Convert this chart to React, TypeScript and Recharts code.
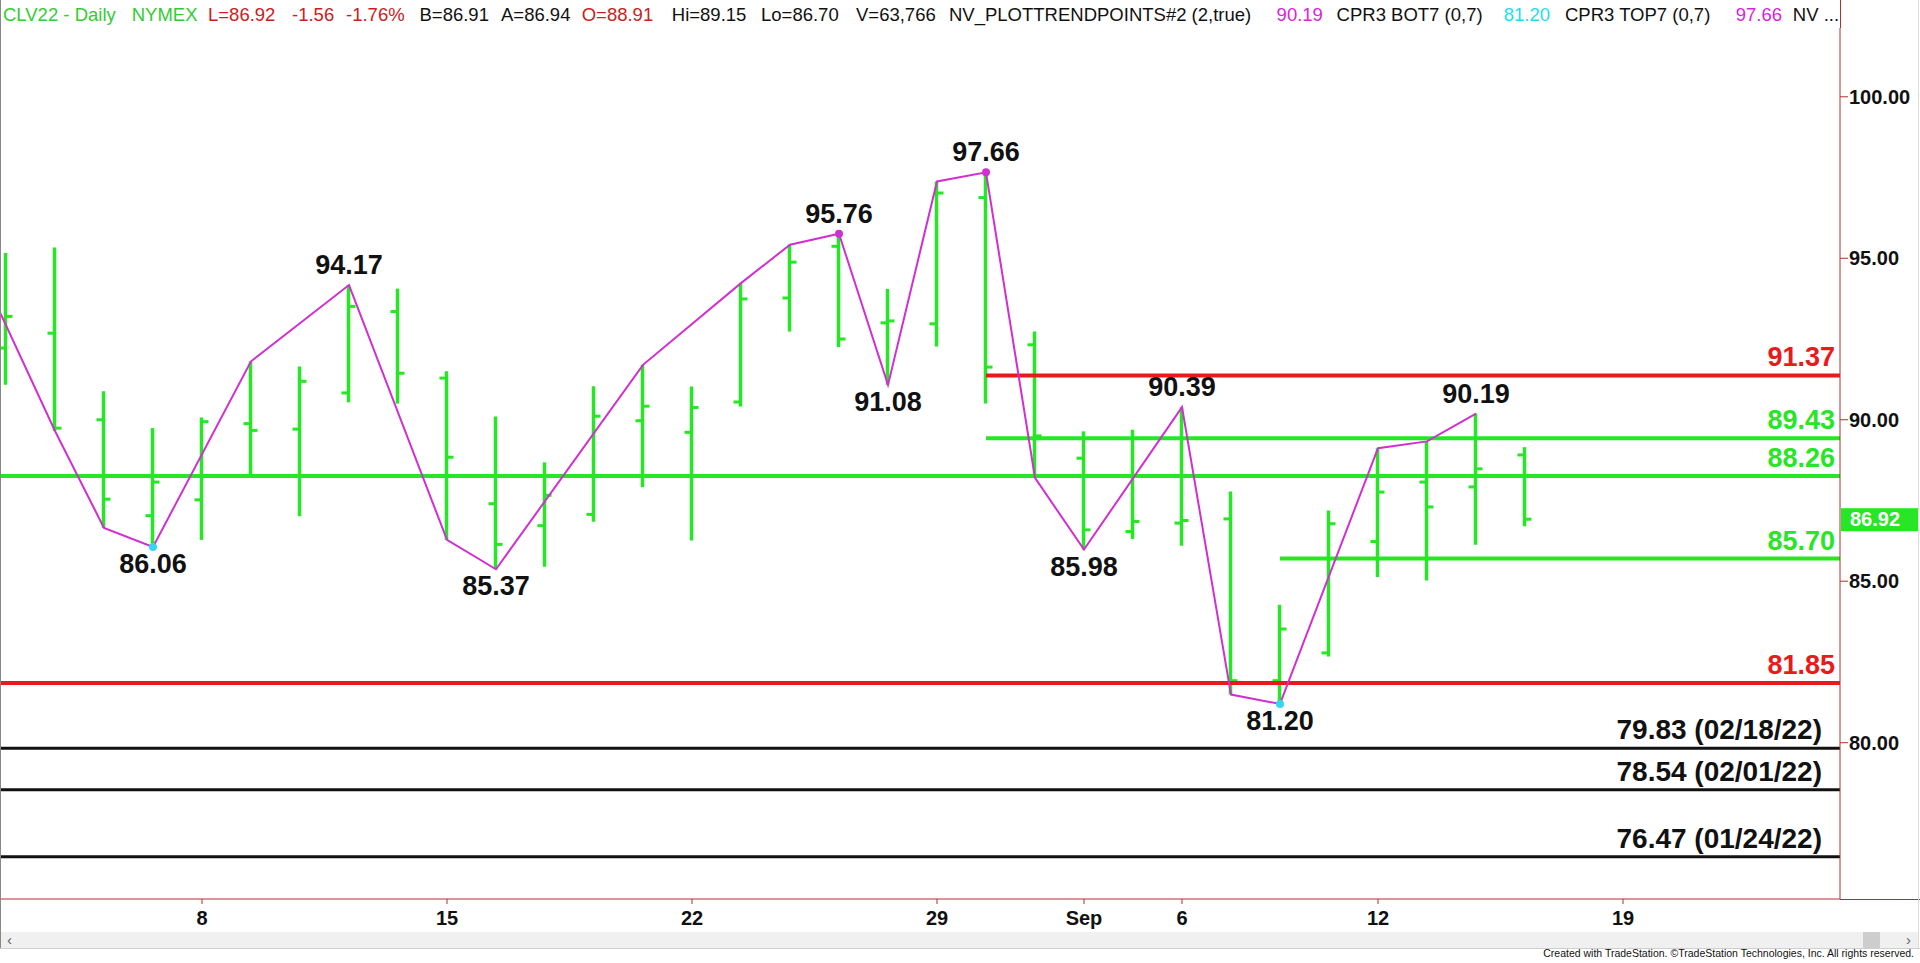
import React from 'react'
import { ComposedChart, Bar, Line, Scatter, XAxis, YAxis, ReferenceLine } from 'recharts'

// CLV22 daily bars, Aug 1 .. Sep 15 2022 (Aug 1 is off the left edge, only its swing point shows)
const days = [
  '08-01', '08-02', '08-03', '08-04', '08-05', '08-08', '08-09', '08-10', '08-11', '08-12',
  '08-15', '08-16', '08-17', '08-18', '08-19', '08-22', '08-23', '08-24', '08-25', '08-26',
  '08-29', '08-30', '08-31', '09-01', '09-02', '09-06', '09-07', '09-08', '09-09', '09-12',
  '09-13', '09-14', '09-15',
]
const futureDays = ['09-16', '09-19', '09-20', '09-21', '09-22', '09-23']

const openPx = [
  null, 92.22, 92.68, 90.0, 87.03, 87.52, 89.88, 89.71, 90.83, 93.35,
  91.29, 87.4, 86.72, 87.07, 89.97, 89.61, 90.55, 93.77, 95.37, 93.0,
  92.97, 96.88, 92.32, 88.81, 86.54, 86.8, 86.93, 81.92, 82.78, 86.23,
  88.07, 87.92, 88.91,
]
const highPx = [
  null, 95.16, 95.33, 90.88, 89.74, 90.07, 91.81, 91.65, 94.17, 94.06,
  91.5, 90.1, 88.68, 91.04, 91.7, 91.03, 94.23, 95.42, 95.76, 94.05,
  97.38, 97.66, 92.73, 89.64, 89.69, 90.39, 87.78, 84.27, 87.19, 89.12,
  89.33, 90.19, 89.15,
]
const lowPx = [
  null, 91.08, 89.65, 86.65, 86.06, 86.28, 88.3, 87.01, 90.54, 90.5,
  86.28, 85.37, 85.45, 86.84, 87.91, 86.26, 90.41, 92.73, 92.25, 91.08,
  92.27, 90.5, 88.2, 85.98, 86.31, 86.1, 81.49, 81.2, 82.67, 85.13,
  85.02, 86.13, 86.7,
]
const closePx = [
  null, 93.2, 89.74, 87.54, 88.07, 89.94, 89.67, 91.19, 93.51, 91.44,
  88.84, 86.14, 87.66, 90.11, 90.42, 90.38, 93.74, 94.88, 92.5, 93.06,
  97.02, 91.63, 89.5, 86.59, 86.85, 86.88, 81.92, 83.52, 86.78, 87.76,
  87.3, 88.48, 86.92,
]
// NV_PLOTTRENDPOINTS swing line, null where it does not turn
const swing = [
  96.2, null, 89.65, 86.65, 86.06, null, 91.81, null, 94.17, null,
  86.28, 85.37, null, null, 91.7, null, 94.23, 95.42, 95.76, 91.08,
  97.38, 97.66, 88.2, 85.98, null, 90.39, 81.49, 81.2, null, 89.12,
  89.33, 90.19, null,
]

const labelDays = ['08-05', '08-11', '08-16', '08-25', '08-26', '08-30', '09-01', '09-06', '09-08', '09-14']
const topDotDays = ['08-25', '08-30']
const bottomDotDays = ['08-05', '09-08']

const tickDays = ['08-08', '08-15', '08-22', '08-29', '09-01', '09-06', '09-12', '09-19']
const tickLabels = ['8', '15', '22', '29', 'Sep', '6', '12', '19']
const priceTicks = [80, 85, 90, 95, 100]

const levelValues = [91.37, 89.43, 88.26, 85.7, 81.85, 79.83, 78.54, 76.47]
const levelFrom = ['08-30', '08-30', null, '09-08', null, null, null, null]
const levelKind = ['red', 'green', 'green', 'green', 'red', 'black', 'black', 'black']
const levelDates = [null, null, null, null, null, '02/18/22', '02/01/22', '01/24/22']

const bidPx = 86.91
const askPx = 86.94
const volume = '63,766'

const FONT = '"Liberation Sans", Arial, sans-serif'
const GREEN = '#26e626'
const RED = '#e81a1a'
const MAGENTA = '#d030d0'
const CYAN = '#33d8f0'
const AXIS = '#b03030'
const kindColor: Record<string, string> = { red: RED, green: GREEN, black: '#111' }

const allDays = [...days, ...futureDays]
const tickIdx = tickDays.map((d) => allDays.indexOf(d))

const rows = days.map((d, i) => ({
  i,
  day: d,
  open: openPx[i],
  high: highPx[i],
  low: lowPx[i],
  close: closePx[i],
  range: highPx[i] == null ? null : [lowPx[i], highPx[i]],
  zig: swing[i],
}))

const labelRows = rows.filter((r) => labelDays.includes(r.day))
const topDots = rows.filter((r) => topDotDays.includes(r.day))
const bottomDots = rows.filter((r) => bottomDotDays.includes(r.day))

// 49px per session, first visible bar 6px in from the left edge
const PLOT_W = 1840
const STEP = 49
const xMin = 1 - 6 / STEP
const xMax = xMin + PLOT_W / STEP

const last = closePx.length - 1
const lastClose = closePx[last] as number
const prevClose = closePx[last - 1] as number
const chg = lastClose - prevClose
const chgPct = (chg / prevClose) * 100

function OhlcShape(props: any) {
  const { x, y, width, height, payload } = props
  if (payload == null || payload.high == null) return null
  const top = Math.min(y, y + height)
  const h = Math.abs(height)
  const cx = x + width / 2
  const py = (v: number) => top + ((payload.high - v) / (payload.high - payload.low)) * h
  return (
    <g stroke={GREEN} strokeWidth={3.5}>
      <line x1={cx} x2={cx} y1={top} y2={top + h} />
      <line x1={cx - 7} x2={cx} y1={py(payload.open)} y2={py(payload.open)} strokeWidth={3} />
      <line x1={cx} x2={cx + 7} y1={py(payload.close)} y2={py(payload.close)} strokeWidth={3} />
    </g>
  )
}

function PivotLabel(props: any) {
  const { cx, cy, payload } = props
  const isHigh = payload.zig === payload.high
  return (
    <text
      x={cx}
      y={isHigh ? cy - 11 : cy + 26}
      textAnchor="middle"
      fontFamily={FONT}
      fontSize={27}
      fontWeight="bold"
      fill="#111"
    >
      {payload.zig.toFixed(2)}
    </text>
  )
}

const dotShape = (color: string) => (props: any) => (
  <circle cx={props.cx} cy={props.cy} r={4} fill={color} stroke="none" />
)

const levelLabel = (text: string, color: string, right: number, size: number) => (props: any) => {
  const vb = props.viewBox
  if (!vb) return null
  return (
    <text
      x={vb.x + vb.width - right}
      y={vb.y - 9}
      textAnchor="end"
      fontFamily={FONT}
      fontSize={size}
      fontWeight="bold"
      fill={color}
    >
      {text}
    </text>
  )
}

const lastPriceTag = (props: any) => {
  const vb = props.viewBox
  if (!vb) return null
  const x0 = vb.x + vb.width + 1
  return (
    <g>
      <rect x={x0} y={vb.y - 11} width={77} height={23} fill={GREEN} />
      <text x={x0 + 9} y={vb.y + 7} fontFamily={FONT} fontSize={20} fontWeight="bold" fill="#fff">
        {lastClose.toFixed(2)}
      </text>
    </g>
  )
}

const header: [number, string, string][] = [
  [3, 'CLV22 - Daily', '#33cc33'],
  [131.7, 'NYMEX', '#33cc33'],
  [208, `L=${lastClose.toFixed(2)}`, '#cc2020'],
  [292, chg.toFixed(2), '#cc2020'],
  [346, `${chgPct.toFixed(2)}%`, '#cc2020'],
  [419.5, `B=${bidPx.toFixed(2)}`, '#111'],
  [501, `A=${askPx.toFixed(2)}`, '#111'],
  [581.7, `O=${(openPx[last] as number).toFixed(2)}`, '#cc2020'],
  [671.8, `Hi=${(highPx[last] as number).toFixed(2)}`, '#111'],
  [761, `Lo=${(lowPx[last] as number).toFixed(2)}`, '#111'],
  [856, `V=${volume}`, '#111'],
  [949, 'NV_PLOTTRENDPOINTS#2 (2,true)', '#111'],
  [1276.6, (swing[31] as number).toFixed(2), '#dd22dd'],
  [1336.6, 'CPR3 BOT7 (0,7)', '#111'],
  [1503.8, '81.20', '#22ddee'],
  [1565, 'CPR3 TOP7 (0,7)', '#111'],
  [1735.8, '97.66', '#dd22dd'],
  [1792.8, 'NV ...', '#111'],
]

export default function App() {
  return (
    <div style={{ position: 'absolute', left: 0, top: 0, width: 1920, height: 963, background: '#fff', overflow: 'hidden' }}>
      <svg width={1920} height={28} style={{ position: 'absolute', left: 0, top: 0 }}>
        {header.map(([x, t, c]) => (
          <text key={x} x={x} y={21} fontFamily={FONT} fontSize={18.5} fill={c}>
            {t}
          </text>
        ))}
      </svg>
      <div style={{ position: 'absolute', left: 1840, top: 0, width: 1, height: 28, background: AXIS }} />
      <div style={{ position: 'absolute', left: 1840, top: 899, width: 80, height: 1, background: AXIS }} />
      <div style={{ position: 'absolute', left: 0, top: 0 }}>
        <ComposedChart
          width={1920}
          height={931}
          data={rows}
          margin={{ top: 28, right: 0, bottom: 0, left: 0 }}
        >
          <XAxis
            dataKey="i"
            type="number"
            domain={[xMin, xMax]}
            allowDataOverflow
            ticks={tickIdx}
            interval={0}
            tickFormatter={(v: number) => tickLabels[tickIdx.indexOf(v)]}
            height={32}
            tickSize={5}
            tickMargin={7}
            axisLine={{ stroke: AXIS, strokeWidth: 1 }}
            tickLine={{ stroke: AXIS }}
            tick={{ fill: '#111', fontSize: 20, fontWeight: 'bold', fontFamily: FONT }}
          />
          <YAxis
            orientation="right"
            type="number"
            domain={[75.16, 102.13]}
            allowDataOverflow
            ticks={priceTicks}
            interval={0}
            tickFormatter={(v: number) => v.toFixed(2)}
            width={80}
            tickSize={8}
            tickMargin={1}
            axisLine={{ stroke: AXIS, strokeWidth: 1 }}
            tickLine={{ stroke: AXIS }}
            tick={{ fill: '#111', fontSize: 20, fontWeight: 'bold', fontFamily: FONT, textAnchor: 'start' }}
          />
          <Bar dataKey="range" barSize={12} shape={OhlcShape} isAnimationActive={false} />
          {levelValues.map((v, k) => {
            const color = kindColor[levelKind[k]]
            const black = levelKind[k] === 'black'
            const text = levelDates[k] ? `${v.toFixed(2)} (${levelDates[k]})` : v.toFixed(2)
            const label = levelLabel(text, color, black ? 18 : 5, black ? 28 : 27)
            const width = black ? 3 : 4
            const from = levelFrom[k]
            if (from) {
              return (
                <ReferenceLine
                  key={v}
                  segment={[
                    { x: days.indexOf(from), y: v },
                    { x: xMax, y: v },
                  ]}
                  stroke={color}
                  strokeWidth={width}
                  label={label}
                />
              )
            }
            return <ReferenceLine key={v} y={v} stroke={color} strokeWidth={width} label={label} />
          })}
          <ReferenceLine y={lastClose} stroke="none" label={lastPriceTag} />
          <Line
            dataKey="zig"
            type="linear"
            stroke={MAGENTA}
            strokeWidth={2}
            connectNulls
            dot={false}
            activeDot={false}
            isAnimationActive={false}
          />
          <Scatter data={topDots} dataKey="zig" shape={dotShape(MAGENTA)} isAnimationActive={false} />
          <Scatter data={bottomDots} dataKey="zig" shape={dotShape(CYAN)} isAnimationActive={false} />
          <Scatter data={labelRows} dataKey="zig" shape={PivotLabel} isAnimationActive={false} />
        </ComposedChart>
      </div>
      <div style={{ position: 'absolute', left: 0, top: 0, width: 1, height: 948, background: '#888' }} />
      <div style={{ position: 'absolute', left: 1918, top: 0, width: 1, height: 948, background: '#ddd' }} />
      <div style={{ position: 'absolute', left: 1, top: 932, width: 1917, height: 16, background: '#f0f0f0' }} />
      <div style={{ position: 'absolute', left: 1863, top: 932, width: 17, height: 16, background: '#cdcdcd' }} />
      <div style={{ position: 'absolute', left: 0, top: 948, width: 1920, height: 1, background: '#cfcfcf' }} />
      <svg width={1920} height={963} style={{ position: 'absolute', left: 0, top: 0, pointerEvents: 'none' }}>
        <text x={7} y={945} fontFamily={FONT} fontSize={15} fill="#606060">‹</text>
        <text x={1906} y={945} fontFamily={FONT} fontSize={15} fill="#606060">›</text>
        <text x={1914} y={957} textAnchor="end" fontFamily={FONT} fontSize={10.5} fill="#111">
          Created with TradeStation. ©TradeStation Technologies, Inc. All rights reserved.
        </text>
      </svg>
    </div>
  )
}
